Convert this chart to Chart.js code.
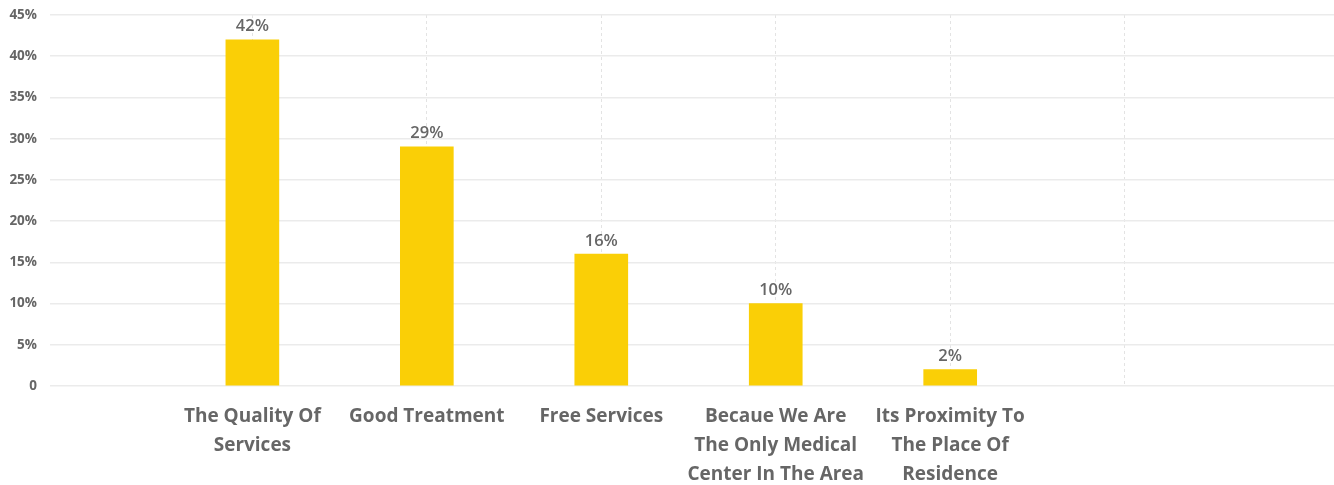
<!DOCTYPE html>
<html>
<head>
<meta charset="utf-8">
<script src="https://cdn.jsdelivr.net/npm/chart.js@4/dist/chart.umd.min.js"></script>
<style>
  html, body { margin: 0; padding: 0; background: #ffffff; }
  #wrap { width: 1334px; height: 485px; position: relative; }
</style>
</head>
<body>
<div id="wrap"><canvas id="chart" width="1334" height="485"></canvas></div>
<script>
// Reasons for choosing the center (share of respondents, %)
const categories = [
  ['The Quality Of', 'Services'],
  ['Good Treatment'],
  ['Free Services'],
  ['Becaue We Are', 'The Only Medical', 'Center In The Area'],
  ['Its Proximity To', 'The Place Of', 'Residence']
];
const shares = [42, 29, 16, 10, 2];
const yTicks = [0, 5, 10, 15, 20, 25, 30, 35, 40, 45];

const FONT = "'Open Sans', 'Noto Sans', sans-serif";
const TEXT = '#666666';

// bars sit at integer positions 1..n on a linear x scale; one extra empty slot follows
const points = shares.map((v, i) => ({ x: i + 1, y: v }));
const slotCount = categories.length + 1;

const valueLabels = {
  id: 'valueLabels',
  afterDatasetsDraw(chart) {
    const ctx = chart.ctx;
    const meta = chart.getDatasetMeta(0);
    ctx.save();
    ctx.font = `600 16.5px ${FONT}`;
    ctx.fillStyle = TEXT;
    ctx.textAlign = 'center';
    ctx.textBaseline = 'bottom';
    meta.data.forEach((bar, i) => {
      ctx.fillText(shares[i] + '%', bar.x, bar.y - 5);
    });
    ctx.restore();
  }
};

new Chart(document.getElementById('chart'), {
  type: 'bar',
  data: {
    datasets: [{
      data: points,
      backgroundColor: '#FACF06',
      borderWidth: 0,
      barThickness: 53
    }]
  },
  options: {
    responsive: false,
    animation: false,
    layout: { padding: { top: 15, left: 0, right: 0, bottom: 0 } },
    plugins: { legend: { display: false }, tooltip: { enabled: false } },
    scales: {
      x: {
        type: 'linear',
        offset: false,
        min: -0.16,
        max: 7.2,
        afterBuildTicks(scale) {
          const t = [];
          for (let k = 1; k <= slotCount; k++) t.push({ value: k });
          scale.ticks = t;
        },
        afterFit(scale) { scale.height = 99; },
        border: { display: false, dash: [3, 3] },
        grid: {
          offset: false,
          color: '#e3e3e3',
          lineWidth: 1,
          drawTicks: false
        },
        ticks: {
          autoSkip: false,
          maxRotation: 0,
          minRotation: 0,
          padding: 16,
          color: TEXT,
          font: { family: FONT, size: 19, weight: '700', lineHeight: 1.53 },
          callback: (v) => categories[v - 1] || ''
        }
      },
      y: {
        min: 0,
        max: 45,
        afterBuildTicks(scale) {
          scale.ticks = yTicks.map(v => ({ value: v }));
        },
        afterFit(scale) {
          scale.width = 50;
          scale.paddingTop = 0;
          scale.paddingBottom = 0;
        },
        border: { display: false },
        grid: { color: '#ebebeb', lineWidth: 1.5, drawTicks: false },
        ticks: {
          padding: 13,
          color: TEXT,
          font: { family: FONT, size: 13.5, weight: '700' },
          callback: (v) => v === 0 ? '0' : v + '%'
        }
      }
    }
  },
  plugins: [valueLabels]
});
</script>
</body>
</html>
